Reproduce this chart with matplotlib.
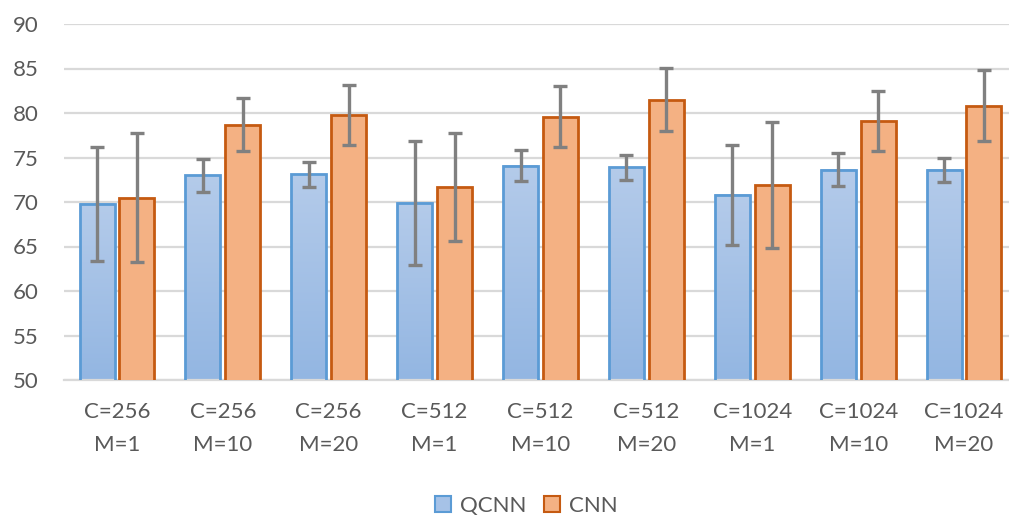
import numpy as np
import matplotlib
matplotlib.use("Agg")
import matplotlib.pyplot as plt
from matplotlib.colors import LinearSegmentedColormap
from matplotlib.patches import Patch

categories = ["C=256\nM=1", "C=256\nM=10", "C=256\nM=20",
              "C=512\nM=1", "C=512\nM=10", "C=512\nM=20",
              "C=1024\nM=1", "C=1024\nM=10", "C=1024\nM=20"]
qcnn_mean = [69.8, 73.0, 73.1, 69.9, 74.1, 73.9, 70.8, 73.6, 73.6]
qcnn_err = [6.4, 1.85, 1.45, 7.0, 1.7, 1.4, 5.65, 1.85, 1.4]
cnn_mean = [70.5, 78.7, 79.8, 71.7, 79.6, 81.5, 71.9, 79.1, 80.8]
cnn_err = [7.25, 2.95, 3.4, 6.1, 3.4, 3.55, 7.1, 3.4, 4.0]
yticks = [50, 55, 60, 65, 70, 75, 80, 85, 90]

plt.rcParams["font.family"] = ["Lato", "DejaVu Sans"]
text_grey = "#595959"

fig = plt.figure(figsize=(10.09, 5.18), dpi=100)
ax = fig.add_axes([64 / 1009, 138 / 518, 953 / 1009, 356 / 518])

x = np.arange(len(categories))
width = 0.33
off = 0.188
ymin, ymax = 50, 90

blue_bars = ax.bar(x - off, qcnn_mean, width, color="none",
                   edgecolor="#5b9bd5", linewidth=2, zorder=3, label="QCNN")
orange_bars = ax.bar(x + off, cnn_mean, width, color="#f4b183",
                     edgecolor="#c55a11", linewidth=2, zorder=3, label="CNN")

# vertical gradient fill inside each QCNN bar (visible part only)
grad_cmap = LinearSegmentedColormap.from_list("qgrad", ["#b4cbea", "#93b6e2"])
grad = np.linspace(0, 1, 256).reshape(-1, 1)
for bar in blue_bars:
    x0 = bar.get_x()
    w, top = bar.get_width(), bar.get_y() + bar.get_height()
    ax.imshow(grad, cmap=grad_cmap, aspect="auto",
              extent=[x0, x0 + w, ymin, top], origin="upper", zorder=2.5)

err_style = dict(fmt="none", ecolor="#808080", elinewidth=2.4,
                 capsize=4.8, capthick=2.4, zorder=4)
ax.errorbar(x - off, qcnn_mean, yerr=qcnn_err, **err_style)
ax.errorbar(x + off, cnn_mean, yerr=cnn_err, **err_style)

ax.set_ylim(ymin, ymax)
ax.set_xlim(-0.5, len(categories) - 0.5)
ax.set_yticks(yticks)
ax.set_xticks(x)
ax.set_xticklabels(categories, linespacing=1.8, fontsize=16)
ax.tick_params(axis="y", length=0, colors=text_grey, labelsize=16, pad=18)
ax.tick_params(axis="x", length=0, colors=text_grey, pad=16)
for lbl in ax.get_yticklabels():
    lbl.set_horizontalalignment("right")

ax.grid(axis="y", color="#d9d9d9", linewidth=1.6, zorder=0)
ax.set_axisbelow(True)
for side in ["top", "right", "left"]:
    ax.spines[side].set_visible(False)
ax.spines["bottom"].set_color("#d9d9d9")
ax.spines["bottom"].set_linewidth(1.6)

handles = [Patch(facecolor="#a6c2e7", edgecolor="#5b9bd5", linewidth=1.5, label="QCNN"),
           Patch(facecolor="#f4b183", edgecolor="#c55a11", linewidth=1.5, label="CNN")]
leg = fig.legend(handles=handles, loc="center", bbox_to_anchor=(526 / 1009, 1 - 506 / 518),
                 ncol=2, frameon=False, prop={"size": 16},
                 handlelength=0.72, handleheight=0.72,
                 handletextpad=0.4, columnspacing=0.8)
for t in leg.get_texts():
    t.set_color(text_grey)

fig.savefig("out.png", dpi=100)
